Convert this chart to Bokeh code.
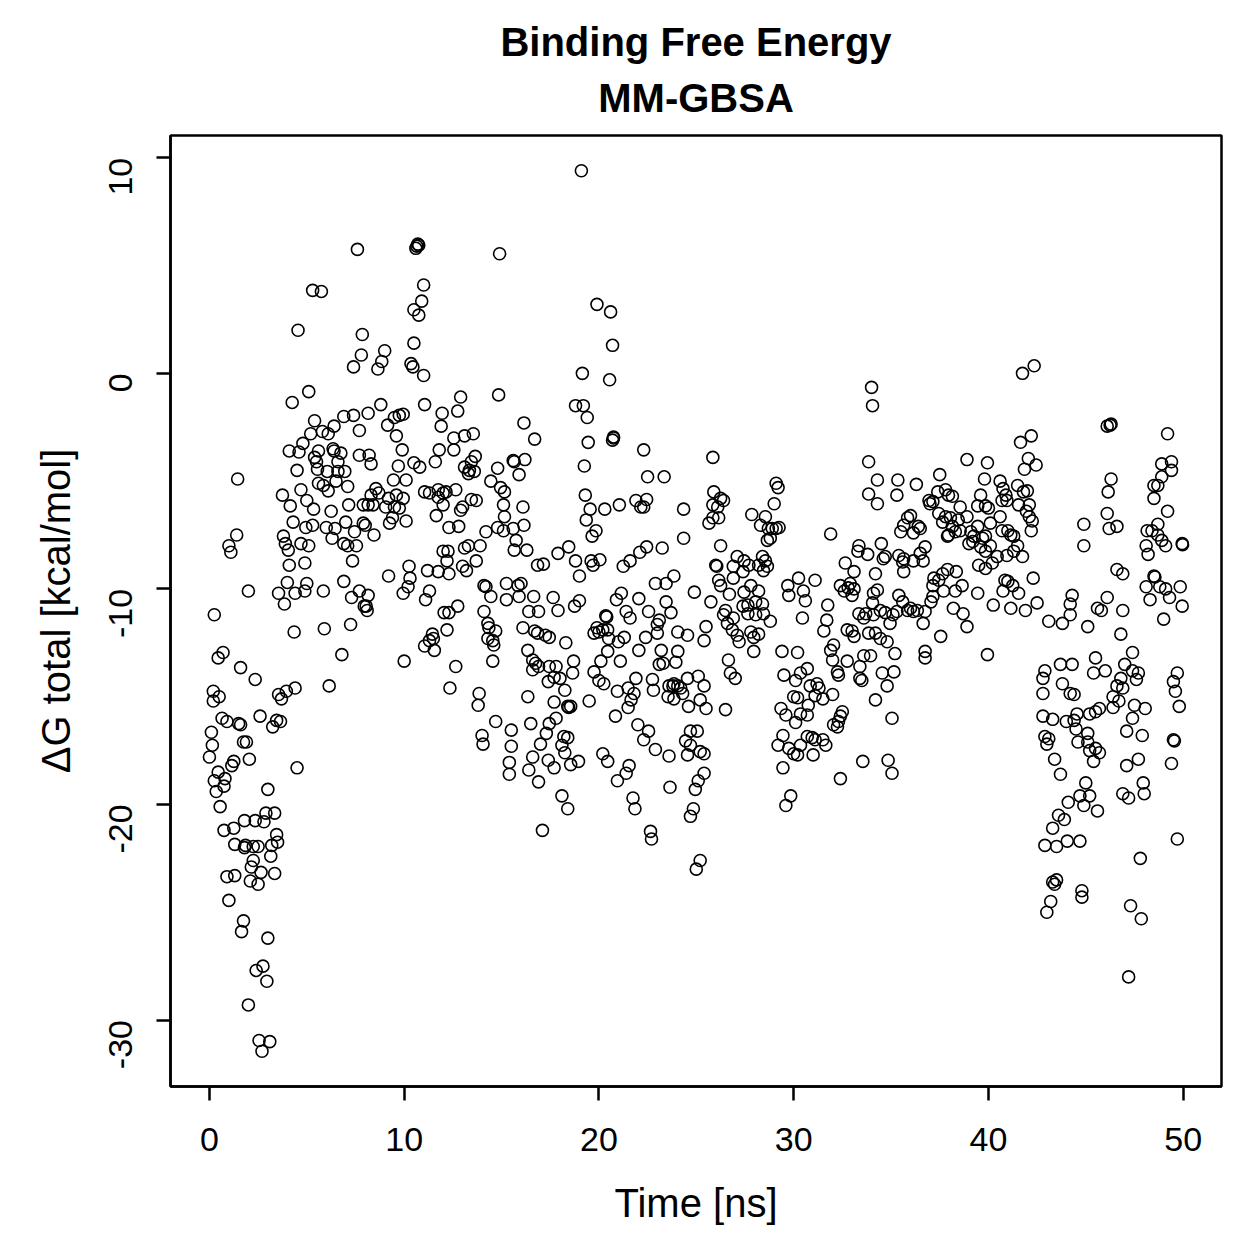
import math
from bokeh.plotting import figure
from bokeh.models import Range1d, FixedTicker, Title, ColumnDataSource
from bokeh.embed import file_html
from bokeh.resources import INLINE

# ---- data: (time [ns], dG total [kcal/mol]), by time block ----
block_00_08 = [
    (7.6, 5.75), (5.3, 3.85), (5.75, 3.8), (4.55, 2.0), (7.85, 1.8), (7.8, 0.85), (7.4, 0.3), (5.1, -0.85), (4.25, -1.35),
    (5.4, -2.2), (5.2, -2.8), (5.8, -2.7), (6.1, -2.8), (6.4, -2.45), (6.9, -2.0), (7.4, -1.95), (7.7, -2.65), (8.15, -1.85),
    (4.8, -3.25), (4.1, -3.6), (4.6, -3.65), (5.6, -3.6), (5.4, -3.9), (5.5, -4.1), (5.55, -4.45), (6.35, -3.5), (6.4, -3.6),
    (6.75, -3.7), (6.6, -4.1), (7.7, -3.8), (8.2, -3.8), (8.3, -4.2),
    (4.5, -4.5), (6.05, -4.55), (6.6, -4.55), (6.95, -4.55), (6.5, -5.0), (5.6, -5.1), (5.85, -5.2), (6.1, -5.45), (7.1, -5.25),
    (4.7, -5.4), (5.0, -5.9), (5.35, -6.3), (3.75, -5.65), (4.15, -6.15), (6.25, -6.4), (7.15, -6.1), (7.9, -6.1), (8.15, -6.1),
    (1.45, -4.9),
    (4.3, -6.9), (4.95, -7.15), (5.3, -7.05), (6.0, -7.15), (6.45, -7.2), (7.0, -6.9), (7.45, -7.35), (7.9, -6.95), (8.0, -7.05), (8.45, -7.5),
    (1.4, -7.5), (1.0, -8.0), (1.1, -8.3),
    (3.8, -7.55), (3.9, -7.9), (4.05, -8.2), (4.7, -7.9), (5.1, -8.0), (4.1, -8.9), (4.9, -8.8), (6.3, -7.65), (6.9, -7.9),
    (7.1, -8.0), (7.55, -8.0), (7.35, -8.7),
    (4.0, -9.7), (3.55, -10.2), (3.85, -10.7), (4.4, -10.2), (4.9, -10.1), (5.0, -9.75), (5.85, -10.1), (6.9, -9.65), (7.3, -10.4),
    (7.7, -10.1), (8.15, -10.3), (8.05, -10.8), (2.0, -10.1), (0.25, -11.2),
    (4.35, -12.0), (5.9, -11.85), (7.25, -11.65), (7.95, -10.8), (8.1, -11.0), (6.8, -13.05), (0.45, -13.2), (0.7, -12.95),
    (1.6, -13.65), (2.35, -14.2), (0.2, -14.75), (0.5, -15.0), (0.2, -15.2), (3.55, -14.9), (3.95, -14.75), (3.7, -15.1),
    (4.4, -14.6), (6.15, -14.5),
    (0.65, -16.0), (0.9, -16.15), (1.5, -16.25), (1.6, -16.3), (2.6, -15.9), (3.45, -16.1), (3.25, -16.4), (3.65, -16.15),
    (0.1, -16.65), (0.15, -17.25), (0.0, -17.8), (1.75, -17.1), (1.9, -17.1), (2.05, -17.9), (4.5, -18.3), (1.25, -18.0), (1.15, -18.2),
    (0.45, -18.5), (0.8, -18.8), (0.25, -18.9), (0.75, -19.15), (0.35, -19.4), (3.0, -19.3), (0.55, -20.1),
    (2.9, -20.4), (3.35, -20.4), (1.8, -20.75), (2.35, -20.75), (2.8, -20.8), (0.75, -21.2), (1.25, -21.1),
    (3.45, -21.4), (3.5, -21.75), (3.2, -21.9), (2.5, -21.95), (2.25, -21.95), (1.85, -21.9), (1.3, -21.85), (1.8, -22.0),
    (2.25, -22.6), (3.15, -22.4), (2.15, -22.9), (2.65, -23.15), (3.35, -23.2), (2.1, -23.55), (2.5, -23.7), (0.9, -23.35), (1.3, -23.3),
    (1.0, -24.45), (1.75, -25.4), (1.65, -25.9), (3.0, -26.2), (2.4, -27.7), (2.75, -27.5), (2.95, -28.2), (2.0, -29.3),
    (2.55, -30.95), (3.1, -31.0), (2.7, -31.45),
]

block_08_17 = [
    (10.6, 5.8), (10.65, 5.9), (10.7, 6.0), (10.75, 5.95), (14.9, 5.55), (11.0, 4.1), (10.9, 3.35), (10.5, 2.95), (10.75, 2.7),
    (9.0, 1.05), (8.85, 0.55), (8.65, 0.2), (10.5, 1.4), (10.35, 0.45), (10.45, 0.3), (11.0, -0.1),
    (14.85, -1.0), (12.9, -1.1), (12.75, -1.75), (11.95, -1.85), (11.9, -2.45), (11.05, -1.45), (8.8, -1.45),
    (9.95, -1.9), (9.75, -1.95), (9.5, -2.05), (9.15, -2.4), (9.6, -2.9), (9.9, -3.55),
    (16.15, -2.3), (16.7, -3.05), (13.55, -2.8), (13.1, -2.9), (12.55, -3.0), (12.55, -3.55), (11.8, -3.55), (11.6, -4.1),
    (10.5, -4.15), (10.8, -4.35), (9.7, -4.3),
    (13.65, -3.85), (13.45, -4.1), (13.1, -4.35), (13.35, -4.5), (13.6, -4.55), (13.3, -4.65),
    (15.6, -4.05), (15.65, -4.1), (16.2, -4.0), (15.9, -4.7), (14.8, -4.4),
    (14.45, -5.0), (14.95, -5.3), (15.15, -5.5),
    (9.45, -4.95), (10.1, -4.95), (8.55, -5.35), (8.7, -5.55), (8.3, -5.65), (9.2, -5.8), (9.6, -5.65), (9.95, -5.8),
    (8.4, -6.1), (9.05, -6.2), (9.5, -6.2), (9.75, -6.25), (9.4, -6.7), (9.25, -6.95), (10.1, -6.85),
    (11.05, -5.5), (11.3, -5.55), (11.75, -5.4), (12.0, -5.55), (12.15, -5.5), (12.65, -5.4), (11.75, -5.75), (12.0, -6.1),
    (11.65, -6.6), (12.3, -7.15), (12.8, -7.1),
    (13.0, -6.2), (12.9, -6.35), (13.45, -5.85), (13.7, -5.9),
    (15.1, -6.1), (15.15, -6.65), (14.8, -7.15), (15.1, -7.3), (15.6, -7.2), (16.1, -6.2), (16.15, -7.05), (15.75, -7.75),
    (15.65, -8.2), (16.3, -8.2), (14.2, -7.35),
    (13.9, -8.0), (13.3, -8.0), (13.1, -8.1), (13.7, -8.7), (13.2, -9.15), (13.0, -8.95), (12.25, -8.25), (12.0, -8.25),
    (12.2, -8.7), (12.3, -9.3), (11.75, -9.2), (11.2, -9.15),
    (10.25, -8.95), (10.3, -9.5), (10.2, -9.9), (9.95, -10.2), (9.2, -9.4),
    (11.3, -10.1), (11.1, -10.5), (12.75, -10.8), (12.05, -11.1), (12.3, -11.1),
    (14.1, -9.85), (14.2, -9.9), (14.45, -10.35), (15.25, -9.75), (15.25, -10.5), (15.85, -9.85), (16.0, -9.75), (15.9, -10.35),
    (14.1, -11.05), (16.85, -8.9), (16.65, -10.35), (16.4, -11.05), (16.9, -11.05),
    (12.2, -11.9), (11.45, -12.1), (11.5, -12.3), (11.3, -12.4), (11.05, -12.65), (11.55, -12.85),
    (10.0, -13.35), (12.65, -13.6), (12.35, -14.6),
    (14.3, -11.6), (14.35, -11.8), (14.7, -11.95), (14.3, -12.3), (14.55, -12.4), (14.6, -12.6), (14.55, -13.35),
    (16.1, -11.8), (16.7, -11.95), (16.85, -12.05), (16.35, -12.85), (16.6, -13.3), (16.75, -13.45), (16.9, -13.6),
    (13.85, -14.85), (13.8, -15.4), (16.35, -15.0), (16.5, -16.25), (14.7, -16.15), (15.5, -16.55), (14.0, -16.8),
    (14.05, -17.2), (15.5, -17.3), (15.4, -18.05), (15.4, -18.6), (16.6, -17.8), (16.4, -18.4), (16.9, -18.95),
    (17.0, -17.2), (17.1, -21.2),
]

block_17_25 = [
    (19.1, 9.4), (19.9, 3.2), (20.6, 2.85), (20.7, 1.3), (19.15, 0.0), (20.55, -0.3), (18.8, -1.5), (19.2, -1.5), (19.4, -2.05),
    (19.45, -3.2), (19.25, -4.3), (20.75, -2.95), (20.75, -3.0), (20.7, -3.1),
    (22.3, -3.55), (22.5, -4.8), (23.35, -4.8),
    (19.3, -5.65), (19.55, -6.3), (19.35, -6.8), (19.85, -7.3), (19.65, -7.55), (20.3, -6.3), (21.05, -6.1), (21.9, -5.9),
    (22.15, -6.2), (22.3, -6.2), (22.45, -5.85), (24.35, -6.3), (24.35, -7.65),
    (18.45, -8.05), (17.9, -8.35), (17.15, -8.85), (18.8, -8.7), (19.0, -9.4), (19.6, -8.7), (19.7, -8.9), (20.05, -8.65),
    (21.25, -8.95), (21.6, -8.7), (22.1, -8.3), (22.45, -8.05), (23.25, -8.1), (23.85, -9.4), (22.9, -9.75), (23.45, -9.75),
    (21.15, -10.2), (20.9, -10.5), (22.05, -10.45), (19.0, -10.55), (18.75, -10.8), (17.9, -11.0), (17.65, -10.4),
    (20.35, -11.25), (21.4, -11.05), (22.55, -11.05), (23.7, -11.1), (23.45, -10.6), (24.9, -10.15),
    (17.25, -12.15), (17.45, -12.25), (18.3, -12.5), (16.6, -13.75),
    (17.45, -13.6), (17.8, -13.6), (18.7, -13.35), (18.65, -13.9), (17.4, -14.3), (17.7, -14.1), (18.0, -14.15), (18.25, -14.7),
    (17.7, -15.25), (18.4, -15.45), (18.45, -15.5), (18.55, -15.45), (19.5, -15.2),
    (17.45, -16.25), (17.8, -16.0), (17.3, -16.7), (18.2, -16.85), (18.4, -16.9), (18.1, -17.25), (18.25, -17.6),
    (17.4, -17.95), (17.7, -18.3), (18.55, -18.15), (18.95, -18.0), (18.1, -19.6), (18.4, -20.2),
    (20.4, -11.3), (19.9, -11.8), (20.0, -12.0), (20.2, -11.9), (20.45, -11.9), (19.75, -12.05), (20.5, -12.3), (21.0, -12.45),
    (21.3, -12.25), (21.6, -11.35), (20.45, -12.9), (21.1, -13.35), (20.1, -13.35), (19.75, -13.85), (20.0, -14.25),
    (20.25, -14.4), (20.95, -14.75), (21.5, -14.6), (21.8, -14.85), (21.65, -15.15), (21.5, -15.5), (21.9, -14.15),
    (20.85, -15.9), (22.0, -16.3), (22.55, -16.6), (22.3, -17.0), (22.9, -17.45), (23.6, -17.75), (23.1, -11.45),
    (23.0, -11.65), (23.0, -12.05), (24.05, -12.0), (24.55, -12.15), (22.4, -12.25), (22.05, -12.85), (23.2, -12.85),
    (24.05, -12.9), (23.3, -13.45), (23.1, -13.5), (23.95, -13.4), (22.75, -14.2), (22.8, -14.7), (23.6, -14.5),
    (23.8, -14.5), (23.85, -14.4), (24.05, -14.5), (24.2, -14.6), (24.3, -14.85), (23.55, -15.0), (23.85, -15.1),
    (24.55, -14.15), (24.6, -15.45), (25.1, -14.05), (25.4, -14.5), (25.2, -15.15), (25.5, -15.55), (25.5, -11.75),
    (25.4, -12.4), (24.45, -17.05), (24.7, -16.6), (25.05, -16.6), (24.7, -17.25), (24.55, -17.7), (25.2, -17.55),
    (25.4, -17.65), (25.4, -18.55), (25.1, -18.9), (24.95, -19.3), (24.85, -20.2), (24.7, -20.55), (23.65, -19.2),
    (21.75, -19.7), (21.85, -20.2), (22.65, -21.25), (22.7, -21.6), (20.2, -17.65), (20.45, -18.0), (21.55, -18.2),
    (21.4, -18.55), (20.95, -18.9), (25.2, -22.6), (25.0, -23.0),
]

block_25_34 = [
    (34.0, -0.65), (34.05, -1.5), (25.85, -3.9), (33.85, -4.1), (34.3, -4.95), (33.85, -5.6), (34.3, -6.05),
    (25.9, -5.5), (25.85, -6.1), (26.4, -5.9), (26.25, -5.8), (26.1, -6.2), (25.85, -6.7), (25.65, -6.95), (26.15, -6.7),
    (29.1, -5.1), (29.2, -5.3), (29.0, -6.05),
    (27.85, -6.55), (28.55, -6.65), (28.3, -7.05), (28.7, -7.2), (28.9, -7.2), (29.1, -7.2), (29.25, -7.15), (28.65, -7.75), (28.8, -7.65),
    (26.25, -8.0), (31.9, -7.45),
    (27.1, -8.5), (27.45, -8.7), (27.7, -8.9), (28.4, -8.5), (28.55, -8.7), (28.65, -8.95), (28.45, -9.15), (28.2, -8.9),
    (26.9, -8.95), (27.4, -9.2), (26.0, -8.9), (26.05, -8.95), (26.15, -9.6), (26.25, -9.85), (26.9, -9.5), (27.8, -9.85),
    (28.2, -10.1), (27.45, -10.15), (26.7, -10.25), (25.75, -10.6), (26.5, -11.0), (27.65, -10.75), (28.05, -10.6), (28.4, -10.7),
    (29.7, -9.85), (30.25, -9.5), (29.75, -10.3), (30.5, -10.1), (30.6, -10.55), (31.1, -9.6), (31.75, -10.75), (30.45, -11.35),
    (33.35, -8.0), (33.3, -8.25), (33.8, -8.4), (32.65, -8.8), (33.1, -9.2), (32.4, -9.85), (32.6, -10.1), (32.8, -9.95),
    (32.9, -9.75), (33.1, -10.0), (33.0, -10.3), (33.35, -11.15), (33.7, -11.15), (34.2, -9.3), (34.3, -10.05), (34.1, -10.2),
    (34.5, -7.9), (34.6, -8.6),
    (26.4, -11.2), (26.6, -11.6), (26.9, -11.35), (27.4, -10.8), (27.65, -11.15), (28.05, -11.2), (28.45, -11.15), (28.8, -11.5),
    (26.85, -11.9), (27.1, -12.15), (27.2, -12.45), (27.8, -12.0), (27.95, -12.25), (28.2, -12.1), (27.95, -12.9),
    (26.65, -13.3), (26.75, -13.9), (27.0, -14.15), (26.5, -15.6),
    (29.4, -12.9), (30.2, -12.95), (30.7, -13.7), (30.35, -13.9), (30.1, -14.25), (29.5, -14.0), (30.0, -15.0), (30.2, -15.05),
    (30.85, -14.5), (31.2, -14.4), (31.3, -14.6), (31.1, -14.95), (31.5, -15.1), (32.0, -14.9), (30.75, -15.4), (29.35, -15.55),
    (29.6, -15.85), (30.1, -16.2), (30.35, -15.8), (30.7, -15.85), (31.9, -12.85), (32.05, -12.6), (32.0, -13.3),
    (32.25, -13.85), (32.3, -14.0), (32.75, -13.35), (33.4, -13.6), (33.6, -13.1), (33.5, -14.25), (33.4, -14.15),
    (34.2, -15.15), (34.55, -13.9), (31.7, -11.45), (31.55, -11.95), (32.75, -11.9), (33.0, -11.95), (33.1, -12.2),
    (33.6, -11.35), (33.85, -12.05), (34.2, -12.05), (34.45, -12.3),
    (32.5, -15.7), (32.4, -15.9), (32.3, -16.15), (32.25, -16.4), (32.05, -16.3), (29.45, -16.8), (29.2, -17.25),
    (29.75, -17.4), (30.0, -17.65), (30.2, -17.7), (30.35, -17.25), (30.7, -16.85), (30.95, -16.9), (31.1, -17.0),
    (31.5, -17.0), (31.65, -17.25), (31.0, -17.7), (29.45, -18.3), (29.85, -19.6), (29.6, -20.05), (33.55, -18.0), (32.4, -18.8),
]

block_34_43 = [
    (41.75, 0.0), (42.35, 0.35), (41.65, -3.2), (42.2, -2.9), (38.9, -4.0), (39.95, -4.15), (42.05, -3.95), (41.85, -4.45), (42.45, -4.25),
    (35.35, -4.95), (36.3, -5.15), (35.3, -5.65), (37.5, -4.7),
    (39.8, -4.9), (40.6, -5.0), (40.75, -5.35), (40.9, -5.65), (41.5, -5.2), (41.8, -5.5), (42.0, -5.45), (39.6, -5.65),
    (39.85, -6.15), (40.0, -6.25), (39.45, -6.15), (40.7, -5.9), (40.95, -5.9), (41.55, -6.1), (42.1, -6.1), (41.95, -6.4),
    (42.1, -6.65), (42.25, -6.85), (42.2, -7.3), (40.6, -6.65), (40.1, -6.95),
    (36.95, -5.9), (37.15, -5.95), (37.4, -5.5), (37.8, -5.4), (37.95, -5.65), (38.15, -5.7), (37.45, -6.5), (37.8, -6.65),
    (37.65, -6.9), (38.05, -6.7), (38.55, -6.2), (38.45, -6.8), (38.9, -6.65), (38.15, -7.1), (38.3, -7.35), (38.55, -7.3),
    (37.95, -7.5), (37.9, -7.55), (39.45, -7.1), (39.1, -7.35), (39.25, -7.55), (39.2, -7.8), (39.0, -7.9), (39.7, -7.65),
    (39.85, -7.55), (40.1, -8.0), (39.6, -8.05), (39.85, -8.25), (40.7, -7.3), (41.0, -7.3), (41.15, -7.5), (41.3, -7.55),
    (41.5, -8.0), (41.75, -8.5),
    (36.5, -7.2), (36.15, -7.4), (35.65, -7.05), (35.5, -7.35), (35.85, -6.7), (36.0, -6.6), (36.4, -7.1), (37.0, -6.05),
    (36.75, -8.05), (36.5, -8.35), (36.65, -8.7), (36.15, -8.7),
    (34.7, -8.5), (35.4, -8.45), (35.65, -8.6), (35.6, -8.75), (35.65, -9.2), (35.4, -10.3), (35.6, -10.6), (35.85, -11.0),
    (36.0, -10.9), (36.15, -11.05), (36.35, -11.0), (35.3, -11.05), (37.15, -9.85), (37.2, -9.5), (37.45, -9.6),
    (37.65, -9.3), (37.9, -9.1), (38.35, -9.2), (38.65, -9.85), (38.3, -10.1), (37.7, -10.1), (37.15, -10.35), (37.05, -10.6),
    (36.75, -11.05), (38.2, -10.9), (38.7, -11.15), (39.45, -10.2), (40.2, -8.8), (39.85, -9.05), (40.25, -10.75),
    (40.85, -9.6), (41.0, -9.65), (41.25, -9.85), (41.55, -10.2), (40.75, -10.1), (41.15, -10.9), (41.9, -11.0),
    (42.3, -9.5), (42.5, -10.65), (39.5, -8.9), (40.45, -8.5), (40.95, -8.45), (41.3, -8.25),
    (34.05, -10.65), (34.1, -11.2), (34.45, -11.0), (34.7, -11.1), (34.95, -11.6), (35.1, -11.2), (34.8, -12.45),
    (35.2, -13.0), (33.95, -13.1), (35.15, -13.85), (34.8, -14.5), (35.05, -16.0), (34.85, -17.95), (35.05, -18.55),
    (36.65, -11.6), (36.75, -12.9), (36.75, -13.2), (37.55, -12.2), (38.9, -11.75), (39.95, -13.05),
]

block_43_50 = [
    (46.1, -2.45), (46.25, -2.4), (46.3, -2.35), (49.2, -2.8), (48.9, -4.2), (49.4, -4.1), (48.9, -4.8), (49.4, -4.5),
    (46.3, -4.9), (48.5, -5.2), (48.7, -5.2), (48.5, -5.8), (46.15, -5.5), (49.2, -6.4), (46.1, -6.5), (44.9, -7.0),
    (46.2, -7.2), (46.6, -7.1), (48.7, -7.0), (48.15, -7.3), (48.4, -7.3), (48.7, -7.5), (48.9, -7.75), (49.1, -8.0),
    (49.95, -7.9), (49.97, -7.95), (48.1, -8.0), (48.2, -8.4), (44.9, -8.0), (46.6, -9.1), (46.9, -9.3), (48.5, -9.4),
    (48.55, -9.45), (48.1, -9.9), (48.8, -9.9), (49.1, -10.0), (49.85, -9.9), (48.3, -10.5), (49.3, -10.4), (49.95, -10.8),
    (44.3, -10.3), (44.2, -10.7), (46.1, -10.4), (45.6, -10.9), (45.8, -11.0), (46.9, -11.0),
    (43.1, -11.5), (43.8, -11.6), (44.2, -11.2), (45.1, -11.75), (46.8, -12.1), (49.0, -11.4),
    (45.5, -13.2), (45.4, -13.9), (46.0, -13.8), (43.7, -13.5), (44.3, -13.5), (42.9, -13.8), (42.8, -14.15), (43.8, -14.4),
    (44.2, -14.85), (44.4, -14.9), (42.8, -14.85),
    (47.0, -13.5), (47.4, -12.95), (47.4, -13.8), (47.7, -13.9), (47.6, -14.2),
    (46.8, -14.15), (46.6, -14.5), (46.9, -14.6), (46.4, -15.0), (46.7, -15.2), (46.4, -15.5),
    (49.7, -13.9), (49.5, -14.3), (49.6, -14.75), (49.8, -15.45),
    (47.5, -15.4), (48.05, -15.55), (47.4, -16.0), (47.1, -16.6), (47.9, -16.8),
    (45.7, -15.55), (45.5, -15.7), (45.2, -15.8),
    (44.55, -15.8), (44.4, -16.1), (44.0, -16.15), (43.3, -16.05), (42.8, -15.9),
    (44.5, -16.5), (45.1, -16.7), (45.1, -17.1), (44.6, -17.1),
    (42.9, -16.85), (43.1, -16.95), (43.0, -17.2),
    (45.2, -17.5), (45.5, -17.4), (45.7, -17.6), (45.4, -18.0),
    (49.5, -17.0), (49.55, -17.05), (47.7, -17.9), (47.1, -18.2), (49.4, -18.1), (43.4, -17.9), (43.7, -18.6),
    (45.0, -19.0), (44.7, -19.6), (45.2, -19.6), (44.9, -20.05), (44.1, -19.9), (45.6, -20.3),
    (47.95, -19.0), (48.0, -19.5), (46.9, -19.5), (47.2, -19.7),
    (43.6, -20.5), (43.9, -20.7), (43.3, -21.1),
    (42.9, -21.9), (43.5, -21.95), (44.05, -21.7), (44.7, -21.7),
    (49.7, -21.6), (47.8, -22.5),
    (43.3, -23.6), (43.5, -23.5), (43.4, -23.7), (44.8, -24.0), (44.8, -24.3), (43.2, -24.5), (43.0, -25.0),
    (47.3, -24.7), (47.85, -25.3), (47.2, -28.0),
]

x_ticks = [0, 10, 20, 30, 40, 50]
y_ticks = [-30, -20, -10, 0, 10]
y_tick_labels = ["-30", "-20", "-10", "0", "10"]
title_line1 = "Binding Free Energy"
title_line2 = "MM-GBSA"
x_label = "Time [ns]"
y_label = "\u0394G total [kcal/mol]"

all_points = block_00_08 + block_08_17 + block_17_25 + block_25_34 + block_34_43 + block_43_50
time_ns = [p_[0] for p_ in all_points]
dg_total = [p_[1] for p_ in all_points]

# R-style 4% padding on both axes
xmin, xmax = min(time_ns), max(time_ns)
ymin, ymax = min(dg_total), max(dg_total)
xpad = 0.04 * (xmax - xmin)
ypad = 0.04 * (ymax - ymin)

FONT = "Liberation Sans"

p = figure(width=1259, height=1259, output_backend="svg", toolbar_location=None, title=None,
           x_range=Range1d(xmin - xpad, xmax + xpad), y_range=Range1d(ymin - ypad, ymax + ypad),
           min_border_left=170, min_border_right=38, min_border_top=135, min_border_bottom=173)

p.background_fill_color = "white"
p.border_fill_color = "white"
p.grid.visible = False
p.outline_line_color = "black"
p.outline_line_width = 2.5

src = ColumnDataSource(dict(t=time_ns, g=dg_total))
p.scatter("t", "g", source=src, marker="circle", size=12, fill_color=None,
          line_color="black", line_width=1.6)

for ax in (p.xaxis[0], p.yaxis[0]):
    ax.axis_line_width = 2.5
    ax.axis_line_color = "black"
    ax.major_tick_line_width = 2.5
    ax.major_tick_line_color = "black"
    ax.major_tick_out = 14
    ax.major_tick_in = 0
    ax.minor_tick_line_color = None
    ax.major_label_text_font = FONT
    ax.major_label_text_font_size = "34px"
    ax.major_label_text_color = "black"
    ax.axis_label_text_font = FONT
    ax.axis_label_text_font_size = "40px"
    ax.axis_label_text_font_style = "normal"
    ax.axis_label_text_color = "black"

p.xaxis[0].ticker = FixedTicker(ticks=x_ticks)
p.yaxis[0].ticker = FixedTicker(ticks=y_ticks)
p.yaxis[0].major_label_overrides = {t: s for t, s in zip(y_ticks, y_tick_labels)}
p.xaxis[0].axis_label = x_label
p.yaxis[0].axis_label = y_label
p.xaxis[0].major_label_standoff = 27
p.xaxis[0].axis_label_standoff = 27
p.yaxis[0].major_label_orientation = math.pi / 2
p.yaxis[0].major_label_standoff = 36
p.yaxis[0].axis_label_standoff = 17

t2 = Title(text=title_line2, align="center", text_font=FONT, text_font_size="40px",
           text_font_style="bold", text_color="black", standoff=32)
t1 = Title(text=title_line1, align="center", text_font=FONT, text_font_size="40px",
           text_font_style="bold", text_color="black", standoff=-12)
p.add_layout(t2, "above")
p.add_layout(t1, "above")

open("out.html", "w").write(file_html(p, INLINE))
